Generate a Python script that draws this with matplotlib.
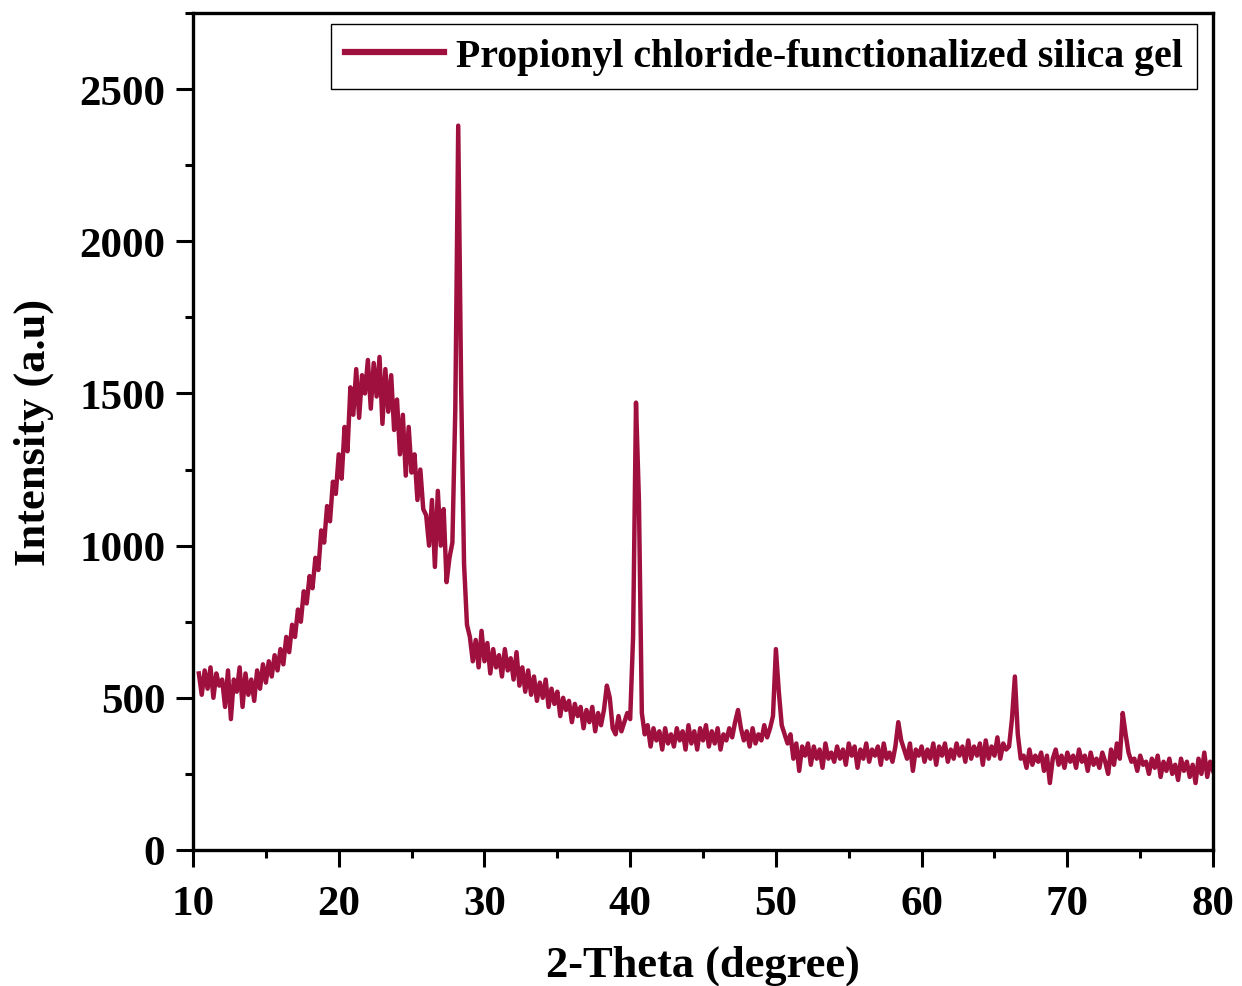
import numpy as np
import matplotlib
matplotlib.use('Agg')
import matplotlib.pyplot as plt
from matplotlib.ticker import MultipleLocator

# XRD pattern at 0.2 degree steps from 10.4 to 80.0
two_theta = np.round(np.arange(10.4, 80.001, 0.2), 1)
intensity = [
    580, 510, 590,                 # 10.4 - 10.8
    530, 600, 500, 580, 540,       # 11
    560, 470, 590, 430, 560,       # 12
    520, 600, 470, 580, 510,       # 13
    560, 490, 590, 530, 610,       # 14
    550, 620, 570, 640, 590,       # 15
    660, 610, 700, 650, 740,       # 16
    700, 790, 750, 850, 810,       # 17
    900, 860, 960, 920, 1050,      # 18
    1010, 1130, 1080, 1210, 1170,  # 19
    1300, 1220, 1390, 1310, 1520,  # 20
    1430, 1580, 1420, 1560, 1500,  # 21
    1610, 1450, 1600, 1490, 1620,  # 22
    1400, 1580, 1440, 1560, 1380,  # 23
    1480, 1300, 1430, 1230, 1390,  # 24
    1240, 1300, 1150, 1250, 1120,  # 25
    1100, 1000, 1150, 930, 1180,   # 26
    1000, 1120, 880, 960, 1010,    # 27
    1450, 2380, 1520, 940, 740,    # 28
    700, 620, 690, 600, 720,       # 29
    620, 680, 580, 660, 600,       # 30
    640, 570, 660, 590, 630,       # 31
    560, 650, 540, 600, 520,       # 32
    590, 510, 570, 490, 550,       # 33
    500, 560, 470, 530, 480,       # 34
    520, 440, 500, 460, 490,       # 35
    420, 480, 440, 470, 400,       # 36
    460, 420, 470, 390, 450,       # 37
    410, 460, 540, 500, 400,       # 38
    380, 440, 390, 420, 450,       # 39
    430, 700, 1470, 1150, 450,     # 40
    380, 410, 340, 400, 360,       # 41
    390, 330, 400, 350, 380,       # 42
    340, 400, 360, 390, 330,       # 43
    410, 350, 390, 330, 400,       # 44
    360, 410, 340, 390, 350,       # 45
    400, 330, 380, 360, 400,       # 46
    370, 420, 460, 400, 360,       # 47
    390, 340, 400, 350, 380,       # 48
    360, 410, 370, 400, 440,       # 49
    660, 520, 410, 380, 350,       # 50
    380, 300, 350, 260, 340,       # 51
    310, 350, 280, 340, 300,       # 52
    330, 270, 350, 300, 320,       # 53
    290, 340, 300, 330, 280,       # 54
    350, 310, 340, 270, 330,       # 55
    300, 350, 290, 330, 310,       # 56
    340, 280, 350, 300, 320,       # 57
    290, 340, 420, 360, 330,       # 58
    300, 350, 260, 330, 310,       # 59
    340, 290, 330, 300, 350,       # 60
    280, 340, 310, 350, 290,       # 61
    330, 300, 350, 310, 340,       # 62
    290, 360, 300, 340, 310,       # 63
    350, 280, 360, 300, 340,       # 64
    310, 370, 300, 350, 330,       # 65
    340, 430, 570, 380, 300,       # 66
    310, 270, 330, 280, 310,       # 67
    290, 320, 260, 310, 220,       # 68
    300, 330, 280, 310, 270,       # 69
    320, 290, 310, 270, 330,       # 70
    290, 310, 260, 320, 280,       # 71
    300, 270, 320, 290, 250,       # 72
    330, 280, 350, 300, 450,       # 73
    380, 320, 290, 300, 260,       # 74
    310, 280, 290, 250, 300,       # 75
    270, 310, 240, 290, 260,       # 76
    300, 250, 280, 230, 300,       # 77
    260, 290, 240, 280, 220,       # 78
    300, 250, 320, 240, 290,       # 79
    260,                           # 80
]
series_label = 'Propionyl chloride-functionalized silica gel'
x_ticks = [10, 20, 30, 40, 50, 60, 70, 80]
y_ticks = [0, 500, 1000, 1500, 2000, 2500]

plt.rcParams['font.family'] = ['Liberation Serif', 'DejaVu Serif']
plt.rcParams['font.weight'] = 'bold'

fig = plt.figure(figsize=(12.42, 9.87), dpi=100)
ax = fig.add_axes([0.1554, 0.1378, 0.8213, 0.848])

ax.plot(two_theta, intensity, color='#a0103f', lw=3.2, label=series_label)

ax.set_xlim(10, 80)
ax.set_ylim(0, 2750)
ax.set_xticks(x_ticks)
ax.set_yticks(y_ticks)
ax.xaxis.set_minor_locator(MultipleLocator(5))
ax.yaxis.set_minor_locator(MultipleLocator(250))
ax.tick_params(which='major', direction='out', length=12, width=2.2,
               labelsize=31)
ax.tick_params(axis='x', which='major', pad=13)
ax.tick_params(axis='y', which='major', pad=8)
ax.tick_params(which='minor', direction='out', length=6, width=2.2)
for s in ax.spines.values():
    s.set_linewidth(2.4)

ax.set_xlabel('2-Theta (degree)', fontsize=32, fontweight='bold', labelpad=16)
ax.set_ylabel('Intensity (a.u)', fontsize=32, fontweight='bold', labelpad=18)

leg = ax.legend(loc='upper right', bbox_to_anchor=(0.9843, 0.9869),
                borderaxespad=0, handlelength=2.5,
                handletextpad=0.3, borderpad=0.35, fancybox=False,
                framealpha=1, prop={'weight': 'bold', 'size': 28.7})
leg.get_frame().set_edgecolor('black')
leg.get_frame().set_linewidth(1.0)
for line in leg.get_lines():
    line.set_linewidth(4.5)

fig.savefig('out.png', dpi=100)
